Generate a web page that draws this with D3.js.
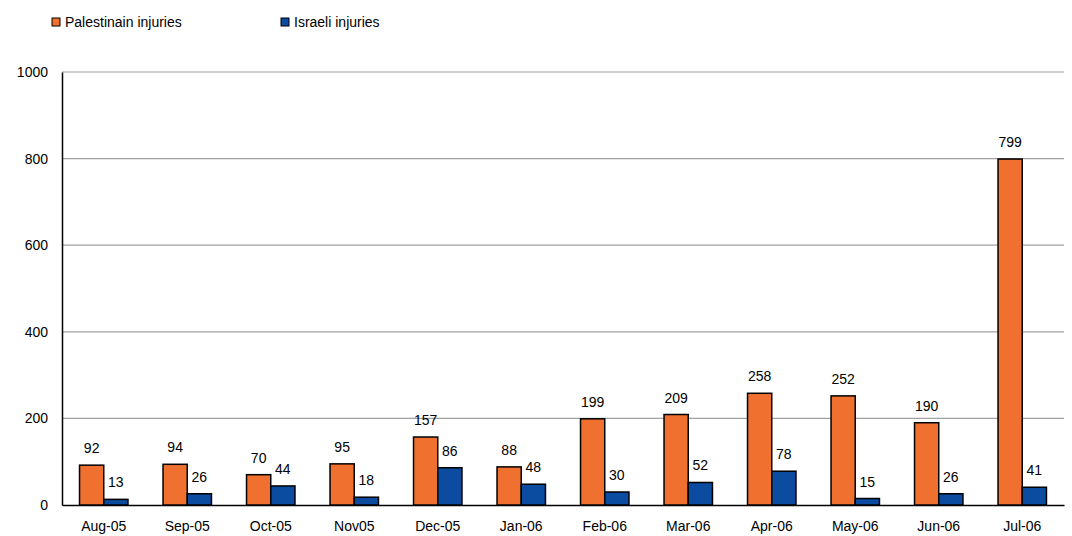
<!DOCTYPE html>
<html>
<head>
<meta charset="utf-8">
<script src="https://cdn.jsdelivr.net/npm/d3@7"></script>
<style>
  body { margin: 0; background: #fff; }
  svg { font-family: "Liberation Sans", Arial, sans-serif; }
  .tick text { font-size: 14px; fill: #000; }
  .grid line { stroke: #a0a0a0; stroke-width: 1.2; }
  .bar { stroke: #000; stroke-width: 1.5; }
  .value { font-size: 14px; fill: #000; text-anchor: middle; }
  .legend text { font-size: 14px; fill: #000; }
</style>
</head>
<body>
<svg id="chart" width="1072" height="536"></svg>
<script>
const months = ["Aug-05", "Sep-05", "Oct-05", "Nov05", "Dec-05", "Jan-06", "Feb-06", "Mar-06", "Apr-06", "May-06", "Jun-06", "Jul-06"];
const palestinian = [92, 94, 70, 95, 157, 88, 199, 209, 258, 252, 190, 799];
const israeli = [13, 26, 44, 18, 86, 48, 30, 52, 78, 15, 26, 41];
const yTicks = [0, 200, 400, 600, 800, 1000];

const seriesNames = ["Palestinain injuries", "Israeli injuries"];
const colors = ["#f07030", "#0b4ba0"];

const margin = {top: 72, right: 8, bottom: 31, left: 62};
const width = 1072, height = 536;

let svg = d3.select("#chart");

let x = d3.scaleBand()
  .domain(months)
  .range([margin.left, width - margin.right])
  .paddingInner(0.42)
  .paddingOuter(0.21);

let sub = d3.scaleBand()
  .domain([0, 1])
  .range([0, x.bandwidth()]);

let y = d3.scaleLinear()
  .domain([0, 1000])
  .range([height - margin.bottom, margin.top]);

// horizontal grid lines
svg.append("g")
  .attr("class", "grid")
  .selectAll("line")
  .data(yTicks.slice(1))
  .enter().append("line")
  .attr("x1", margin.left)
  .attr("x2", width - margin.right)
  .attr("y1", d => y(d))
  .attr("y2", d => y(d));

// y axis
let yAxis = svg.append("g")
  .attr("transform", `translate(${margin.left},0)`)
  .call(d3.axisLeft(y).tickValues(yTicks).tickFormat(d3.format("d")).tickSize(0).tickPadding(14));
yAxis.select(".domain").attr("stroke", "#000").attr("stroke-width", 1.5);

// x axis
let xAxis = svg.append("g")
  .attr("transform", `translate(0,${y(0)})`)
  .call(d3.axisBottom(x).tickSize(0).tickPadding(16));
xAxis.select(".domain").attr("stroke", "#000").attr("stroke-width", 1.5);

let rows = months.map((m, i) => ({month: m, values: [palestinian[i], israeli[i]]}));

let group = svg.selectAll("g.month")
  .data(rows)
  .enter().append("g")
  .attr("class", "month")
  .attr("transform", d => `translate(${x(d.month)},0)`);

group.selectAll("rect")
  .data(d => d.values)
  .enter().append("rect")
  .attr("class", "bar")
  .attr("x", (d, i) => sub(i))
  .attr("width", sub.bandwidth())
  .attr("y", d => y(d))
  .attr("height", d => y(0) - y(d))
  .attr("fill", (d, i) => colors[i]);

group.selectAll("text.value")
  .data(d => d.values)
  .enter().append("text")
  .attr("class", "value")
  .attr("x", (d, i) => sub(i) + sub.bandwidth() / 2)
  .attr("y", d => y(d) - 12)
  .text(d => d);

// legend
let legend = svg.append("g").attr("class", "legend");
let legendX = [52, 281];
seriesNames.forEach((name, i) => {
  legend.append("rect")
    .attr("x", legendX[i])
    .attr("y", 18)
    .attr("width", 8)
    .attr("height", 8)
    .attr("fill", colors[i])
    .attr("stroke", "#000")
    .attr("stroke-width", 1);
  legend.append("text")
    .attr("x", legendX[i] + 13)
    .attr("y", 27)
    .text(name);
});
</script>
</body>
</html>
